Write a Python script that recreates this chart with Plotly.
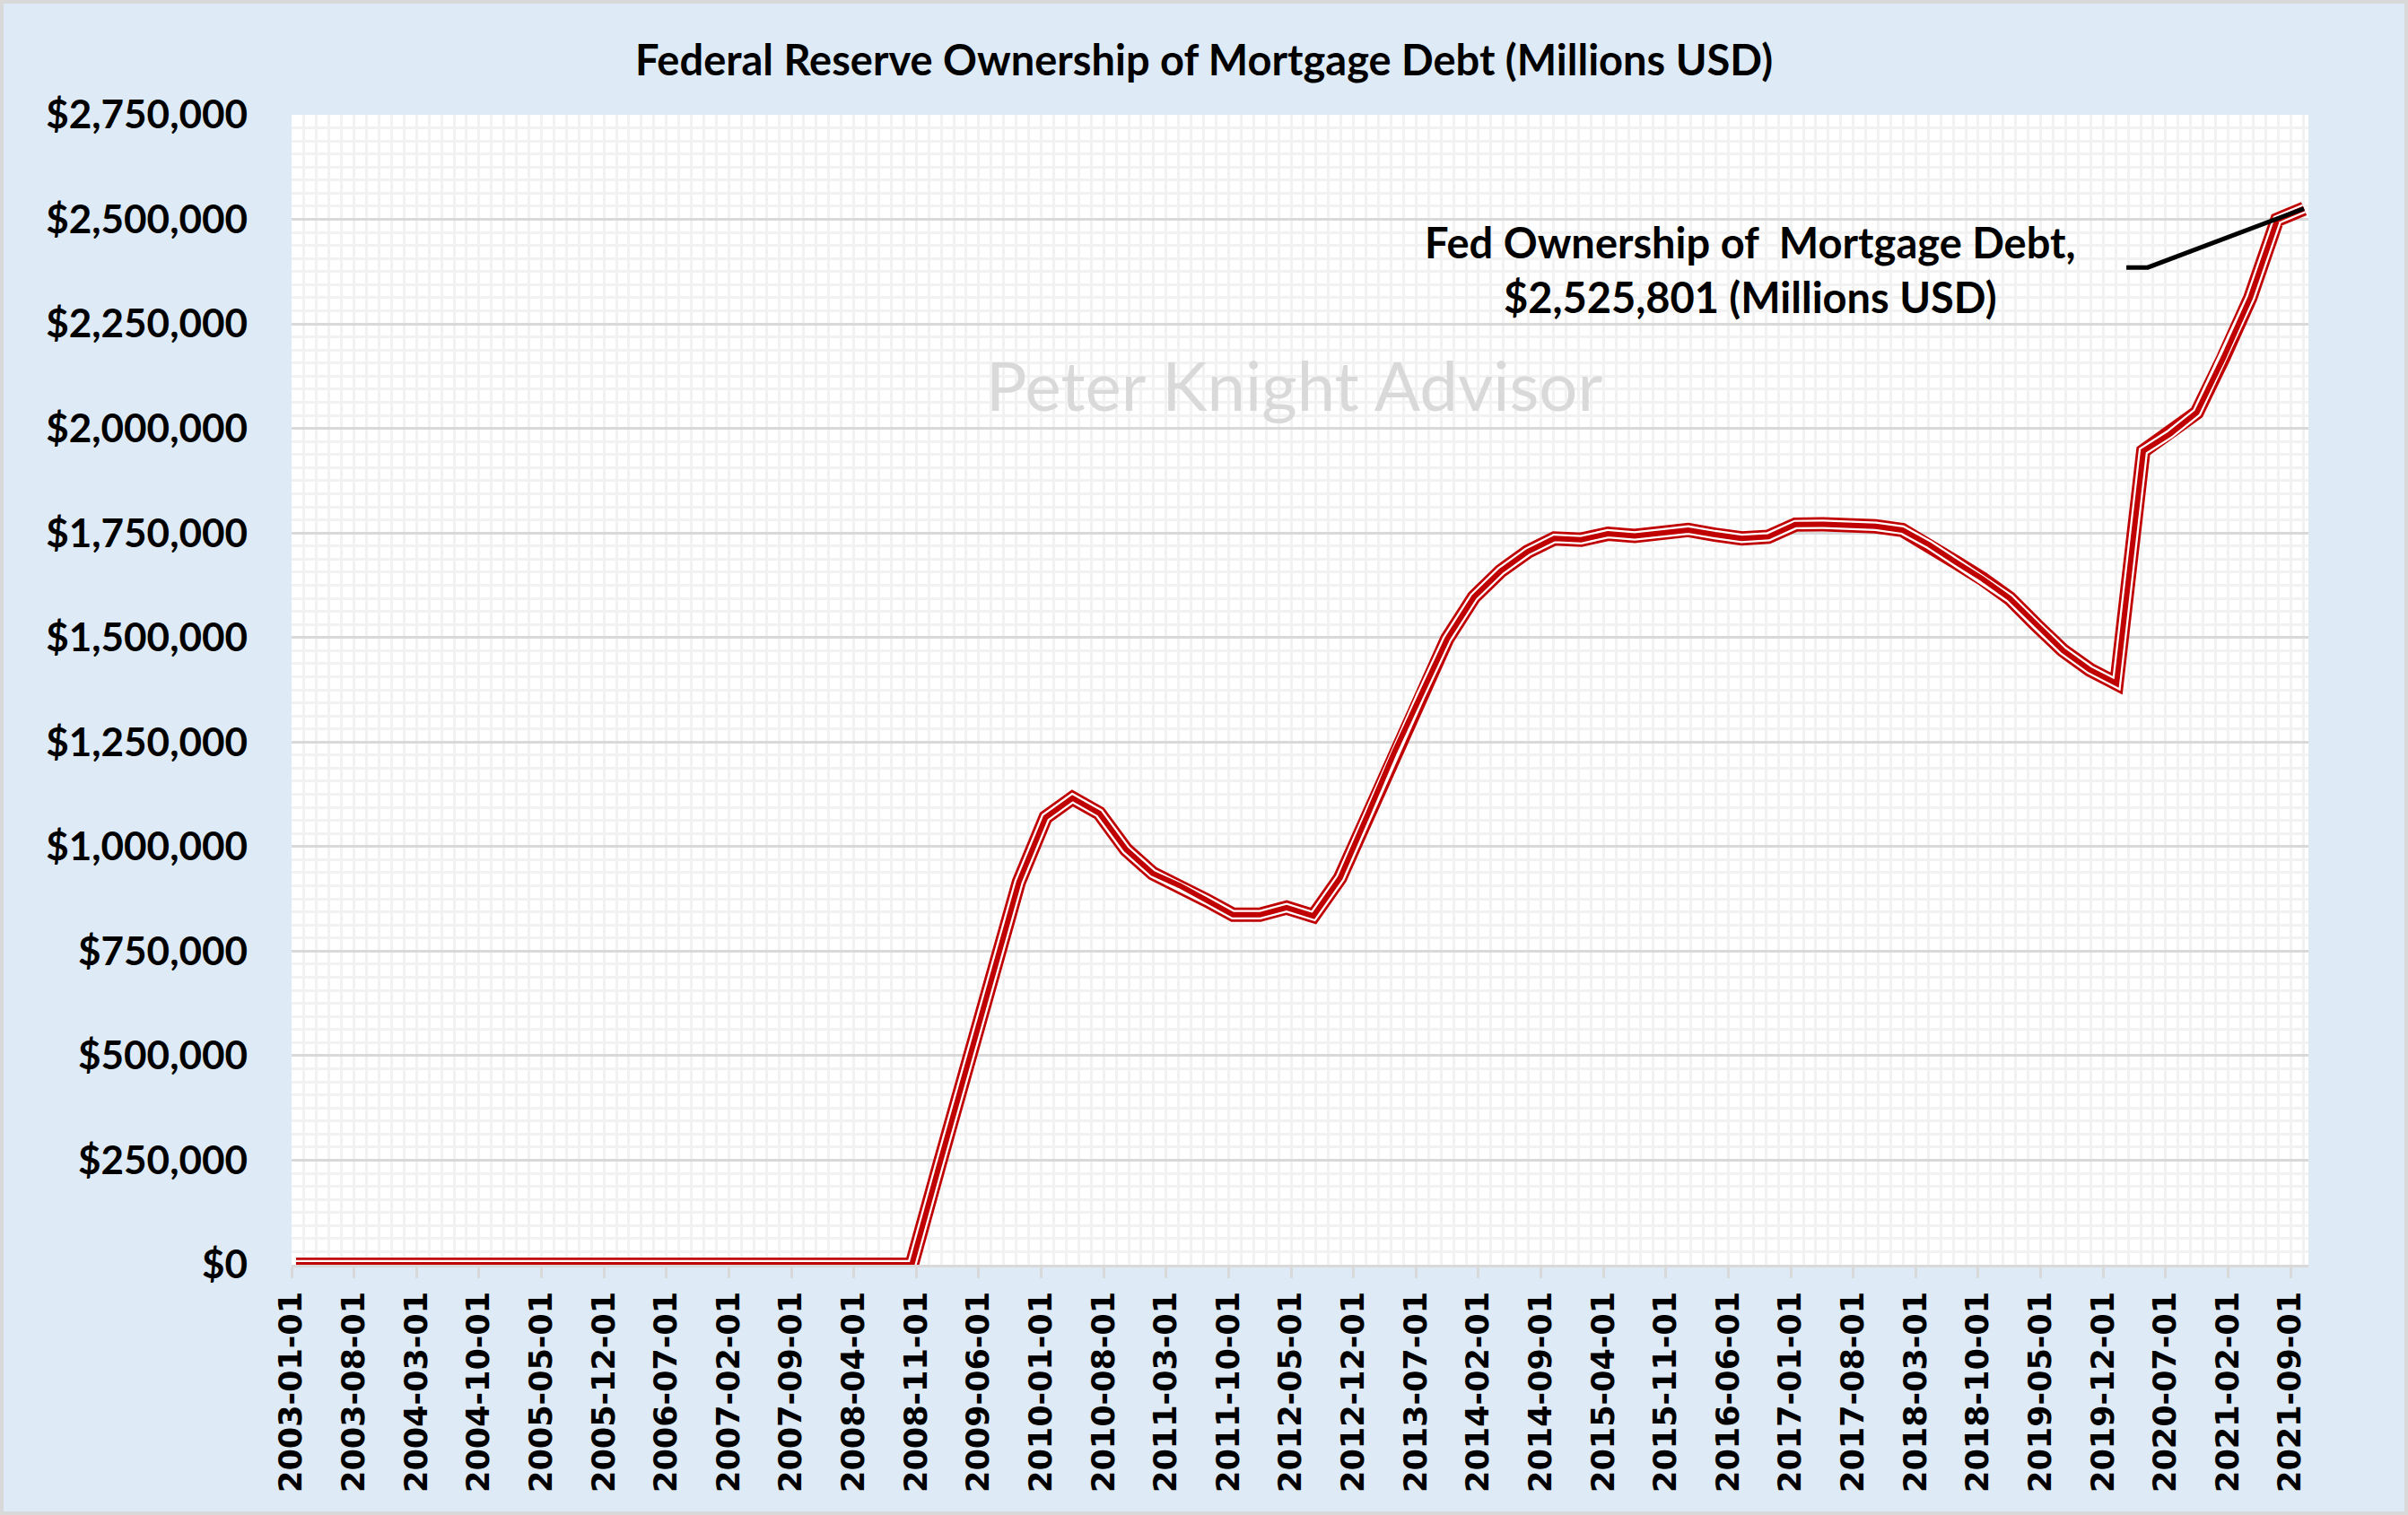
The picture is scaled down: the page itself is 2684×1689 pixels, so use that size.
import pandas as pd
import plotly.graph_objects as go

# ---------------- data (quarterly, millions USD) ----------------
dates = pd.date_range("2003-01-01", "2021-10-01", freq="QS").strftime("%Y-%m-%d").tolist()
values = [
    0, 0, 0, 0,            # 2003
    0, 0, 0, 0,            # 2004
    0, 0, 0, 0,            # 2005
    0, 0, 0, 0,            # 2006
    0, 0, 0, 0,            # 2007
    0, 0, 0, 0,            # 2008
    232000, 458000, 690000, 915000,        # 2009
    1070000, 1116000, 1080000, 993000,     # 2010
    936000, 907000, 872000, 837000,        # 2011
    837000, 854000, 834000, 925000,        # 2012
    1072000, 1222000, 1360000, 1497000,    # 2013
    1597000, 1659000, 1705000, 1737000,    # 2014
    1734000, 1748000, 1743000, 1750000,    # 2015
    1757000, 1746000, 1737000, 1741000,    # 2016
    1770000, 1771000, 1770000, 1766000,    # 2017
    1757000, 1722000, 1680000, 1640000,    # 2018
    1594000, 1530000, 1469000, 1423000,    # 2019
    1390000, 1946000, 1987000, 2038000,    # 2020
    2170000, 2313000, 2499000, 2525801,    # 2021
]

tick_labels = [
    "2003-01-01", "2003-08-01", "2004-03-01", "2004-10-01", "2005-05-01", "2005-12-01",
    "2006-07-01", "2007-02-01", "2007-09-01", "2008-04-01", "2008-11-01", "2009-06-01",
    "2010-01-01", "2010-08-01", "2011-03-01", "2011-10-01", "2012-05-01", "2012-12-01",
    "2013-07-01", "2014-02-01", "2014-09-01", "2015-04-01", "2015-11-01", "2016-06-01",
    "2017-01-01", "2017-08-01", "2018-03-01", "2018-10-01", "2019-05-01", "2019-12-01",
    "2020-07-01", "2021-02-01", "2021-09-01",
]
y_ticks = [0, 250000, 500000, 750000, 1000000, 1250000, 1500000, 1750000,
           2000000, 2250000, 2500000, 2750000]

title_text = "Federal Reserve Ownership of Mortgage Debt (Millions USD)"
label_text = "Fed Ownership of\u00a0 Mortgage Debt,"
watermark = "Peter Knight Advisor"

# ---------------- helpers: month-based date axis ----------------
def month_index(d):
    t = pd.Timestamp(d)
    return (t.year - 2003) * 12 + (t.month - 1)

x_vals = [month_index(d) + 0.5 for d in dates]          # points centred in their month
tick_vals = [month_index(d) for d in tick_labels]        # ticks on month boundaries
last_x, last_y = x_vals[-1], values[-1]

W, H = 2684, 1689
ML, MR, MT, MB = 325, 111, 128, 279
PW, PH = W - ML - MR, H - MT - MB

RED = "#C00000"
BG = "#DEEBF7"

fig = go.Figure()
# compound (triple) line: red / white / red
fig.add_trace(go.Scatter(x=x_vals, y=values, mode="lines",
                         line=dict(color=RED, width=16), hoverinfo="skip", showlegend=False))
fig.add_trace(go.Scatter(x=x_vals, y=values, mode="lines",
                         line=dict(color="white", width=10.5), hoverinfo="skip", showlegend=False))
fig.add_trace(go.Scatter(x=x_vals, y=values, mode="lines",
                         line=dict(color=RED, width=6), hoverinfo="skip", showlegend=False))

# leader line from the data label to the last point
lab_x0, lab_x1, lab_y = 205.6, 208.0, 2385000
fig.add_shape(type="path", xref="x", yref="y",
              path=f"M {lab_x0},{lab_y} L {lab_x1},{lab_y} L {last_x},{last_y}",
              line=dict(color="black", width=5))

fig.add_annotation(x=163.5, y=2381000, xref="x", yref="y",
                   text=f"{label_text}<br>${last_y:,.0f} (Millions USD)",
                   showarrow=False, align="center", xanchor="center", yanchor="middle",
                   font=dict(family="Lato", size=47, color="black", weight="bold"))

fig.add_annotation(x=(1442 - ML) / PW, y=(H - MB - 428) / PH, xref="paper", yref="paper",
                   text=watermark, showarrow=False, xanchor="center", yanchor="middle",
                   font=dict(family="Lato", size=76, color="#D9D9D9"))

# outer border of the chart area
fig.add_shape(type="rect", xref="paper", yref="paper",
              x0=-(ML - 2) / PW, x1=1 + (MR - 2) / PW, y0=-(MB - 2) / PH, y1=1 + (MT - 2) / PH,
              line=dict(color="#D9D9D9", width=4), layer="below")

fig.update_layout(
    width=W, height=H,
    margin=dict(l=ML, r=MR, t=MT, b=MB),
    paper_bgcolor=BG, plot_bgcolor="white",
    title=dict(text=title_text, x=1342 / W, xref="container", xanchor="center",
               y=1 - 68 / H, yref="container", yanchor="middle",
               font=dict(family="Lato", size=47, color="black", weight="bold")),
    xaxis=dict(range=[0, 226], tickmode="array", tickvals=tick_vals, ticktext=tick_labels,
               tickangle=-90, ticks="outside", ticklen=12, tickwidth=3, tickcolor="#D9D9D9",
               ticklabelstandoff=1,
               tickfont=dict(family="DejaVu Sans", size=35, color="black", weight="bold"),
               showgrid=False, zeroline=False,
               showline=True, linecolor="#D9D9D9", linewidth=3,
               minor=dict(tick0=0, dtick=1.4, showgrid=True, gridcolor="#F2F2F2", gridwidth=3,
                          ticks="")),
    yaxis=dict(range=[0, 2750000], tickmode="array", tickvals=y_ticks,
               tickformat="$,.0f", ticks="", ticklabelstandoff=48,
               tickfont=dict(family="Lato", size=44, color="black", weight="bold"),
               showgrid=True, gridcolor="#D9D9D9", gridwidth=3, zeroline=False, showline=False,
               minor=dict(tick0=0, dtick=31250, showgrid=True, gridcolor="#F2F2F2", gridwidth=3,
                          ticks="")),
)

fig.write_html("out.html", config={"displayModeBar": False},
               post_script="document.body.style.margin='0';document.body.style.overflow='hidden';")
